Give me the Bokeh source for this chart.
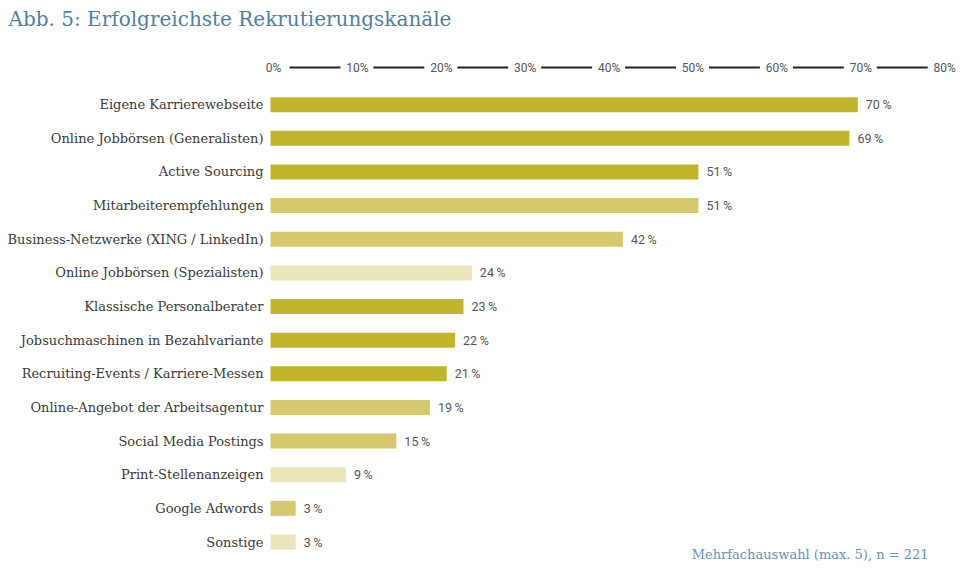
from bokeh.plotting import figure
from bokeh.models import Range1d, ColumnDataSource
from bokeh.core.properties import value
from bokeh.embed import file_html
from bokeh.resources import INLINE

# ---- data ----
categories = [
    "Eigene Karrierewebseite",
    "Online Jobbörsen (Generalisten)",
    "Active Sourcing",
    "Mitarbeiterempfehlungen",
    "Business-Netzwerke (XING / LinkedIn)",
    "Online Jobbörsen (Spezialisten)",
    "Klassische Personalberater",
    "Jobsuchmaschinen in Bezahlvariante",
    "Recruiting-Events / Karriere-Messen",
    "Online-Angebot der Arbeitsagentur",
    "Social Media Postings",
    "Print-Stellenanzeigen",
    "Google Adwords",
    "Sonstige",
]
values = [70, 69, 51, 51, 42, 24, 23, 22, 21, 19, 15, 9, 3, 3]
shade = ["dark", "dark", "dark", "mid", "mid", "light", "dark", "dark", "dark",
         "mid", "mid", "light", "mid", "light"]
ticks = [0, 10, 20, 30, 40, 50, 60, 70, 80]
tick_labels = ["0%", "10%", "20%", "30%", "40%", "50%", "60%", "70%", "80%"]
title_text = "Abb. 5: Erfolgreichste Rekrutierungskanäle"
note_text = "Mehrfachauswahl (max. 5), n = 221"

palette = {"dark": "#C1B629", "mid": "#D6C96D", "light": "#EAE5BA"}

# ---- geometry (pixel scale) ----
W, H = 966, 570
PX = 8.39          # px per percent
ROW = 33.64        # px per row
X0 = 270           # canvas x of 0 %
Y0 = 104.2         # canvas y of first row centre

x_start = -X0 / PX
x_end = (W - X0) / PX
y_top = -Y0 / ROW
y_bottom = (H - Y0) / ROW

p = figure(width=W, height=H, output_backend="svg", toolbar_location=None,
           x_range=Range1d(x_start, x_end), y_range=Range1d(y_bottom, y_top),
           min_border=0, min_border_left=0, min_border_right=0,
           min_border_top=0, min_border_bottom=0)
p.outline_line_color = None
p.xaxis.visible = False
p.yaxis.visible = False
p.xgrid.visible = False
p.ygrid.visible = False
p.background_fill_color = "white"
p.border_fill_color = "white"

idx = list(range(len(categories)))
src = ColumnDataSource(dict(
    y=idx, v=values, cat=categories,
    color=[palette[s] for s in shade],
    lab=[f"{v}\u2009%" for v in values],
    lx=[v + 8 / PX for v in values],
    cx=[-7 / PX] * len(values),
))

p.hbar(y="y", left=0, right="v", height=15 / ROW, color="color",
       line_color=None, source=src)

serif = value("DejaVu Serif")
sans = value("Roboto")

p.text(x="cx", y="y", text="cat", source=src, text_font=serif,
       text_font_size="13px", text_color="#3a3a3a", text_align="right",
       text_baseline="middle")
p.text(x="lx", y="y", text="lab", source=src, text_font=sans,
       text_font_size="12.5px", text_color="#555555", text_align="left",
       text_baseline="middle")

# top axis: labels with line segments between them
axis_y = (67 - Y0) / ROW
p.text(x=[t + 3 / PX for t in ticks], y=[axis_y] * len(ticks), text=tick_labels,
       text_font=sans, text_font_size="12px", text_color="#555555",
       text_align="center", text_baseline="middle")
p.segment(x0=[t + 19 / PX for t in ticks[:-1]], y0=[axis_y] * (len(ticks) - 1),
          x1=[t - 14 / PX for t in ticks[1:]], y1=[axis_y] * (len(ticks) - 1),
          line_color="#222222", line_width=2)

# title
p.text(x=[x_start + 8 / PX], y=[(18 - Y0) / ROW], text=[title_text],
       text_font=serif, text_font_size="20px", text_color="#4F7FA8",
       text_align="left", text_baseline="middle")

# footnote
p.text(x=[(928 - X0) / PX], y=[(554 - Y0) / ROW], text=[note_text],
       text_font=serif, text_font_size="13px", text_color="#6A90B3",
       text_align="right", text_baseline="middle")

open("out.html", "w").write(file_html(p, INLINE))
